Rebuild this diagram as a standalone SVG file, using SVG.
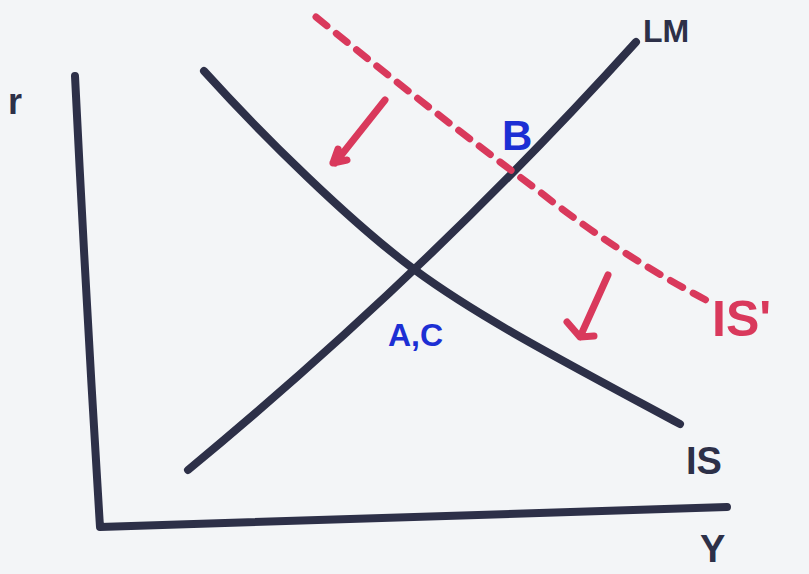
<svg xmlns="http://www.w3.org/2000/svg" width="809" height="574" viewBox="0 0 809 574">
<style>
.ink{fill:none;stroke:#2d3048;stroke-width:8;stroke-linecap:round;stroke-linejoin:round}
.red{fill:none;stroke:#d9395c;stroke-width:7;stroke-linecap:round;stroke-linejoin:round}
.dash{stroke-dasharray:14 12}
.lbl{font-family:"Liberation Sans",Arial,sans-serif;font-weight:bold}
.dark{fill:#2d3048}
.blue{fill:#1c2fd4}
.pink{fill:#d9395c}
</style>
<rect width="809" height="574" fill="#f3f5f7"/>
<g id="axes">
<path class="ink" d="M75,76 Q86,300 100,527 L727,507"/>
<text class="lbl dark" x="8" y="114" font-size="36">r</text>
<text class="lbl dark" x="700" y="562" font-size="38">Y</text>
</g>
<g id="IS">
<path class="ink" d="M204,71 C262,135 350,222 415,270 S565,362 680,424"/>
<text class="lbl dark" x="686" y="474" font-size="38">IS</text>
</g>
<g id="LM">
<path class="ink" d="M188,470 Q430,270 636,42"/>
<text class="lbl dark" x="643" y="42" font-size="32">LM</text>
</g>
<g id="ISprime">
<path class="red dash" d="M316,17 Q430,110 540,192 Q620,255 706,300"/>
<text class="lbl pink" x="712" y="336" font-size="50">IS'</text>
</g>
<g id="connectors">
<path class="red" d="M385,100 L335,163 M333,163 L347,160 M333,163 L338,149"/>
<path class="red" d="M608,275 L580,337 M567,322 L580,337 L594,336"/>
</g>
<g id="B"><text class="lbl blue" x="502" y="150" font-size="42">B</text></g>
<g id="AC"><text class="lbl blue" x="388" y="346" font-size="32">A,C</text></g>
</svg>
